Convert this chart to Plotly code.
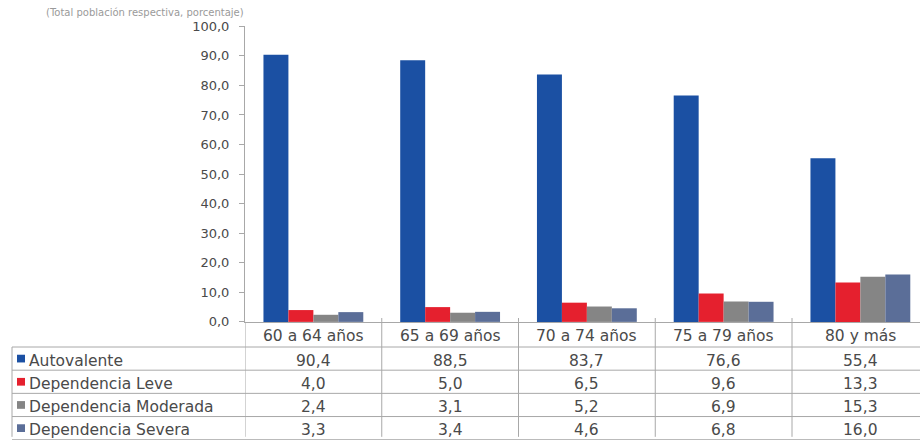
import plotly.graph_objects as go

categories = ["60 a 64 años", "65 a 69 años", "70 a 74 años", "75 a 79 años", "80 y más"]
series_names = ["Autovalente", "Dependencia Leve", "Dependencia Moderada", "Dependencia Severa"]
autovalente = [90.4, 88.5, 83.7, 76.6, 55.4]
dep_leve = [4.0, 5.0, 6.5, 9.6, 13.3]
dep_moderada = [2.4, 3.1, 5.2, 6.9, 15.3]
dep_severa = [3.3, 3.4, 4.6, 6.8, 16.0]
series_values = [autovalente, dep_leve, dep_moderada, dep_severa]
colors = ["#1B50A3", "#E5202E", "#858585", "#5B6E98"]
y_ticks = [0, 10, 20, 30, 40, 50, 60, 70, 80, 90, 100]
subtitle = "(Total población respectiva, porcentaje)"

W, H = 920, 440
def fx(px):
    return px / W
def fy(py):
    return 1 - py / H

FONT = "DejaVu Sans"
TXT = "#4A4A4A"
GRID = "#A8A8A8"
TFS = 15.5

fig = go.Figure()
for name, vals, col in zip(series_names, series_values, colors):
    fig.add_trace(go.Bar(x=list(range(len(categories))), y=vals, name=name,
                         marker=dict(color=col, line=dict(width=0)), showlegend=False))

cat_w = 136.75
x0_px = 245
x_end = -0.5 + (W - x0_px) / cat_w

shapes = []
annotations = []

axis_y = 326
row_lines = [352, 376, 400, 424, 448]
left_px = 12

for i in range(len(categories)):
    shapes.append(dict(type="line", xref="x", yref="paper", x0=i - 0.5, x1=i - 0.5,
                       y0=fy(axis_y), y1=fy(H + 5), line=dict(color=GRID, width=1)))
for i in range(1, len(categories)):
    shapes.append(dict(type="line", xref="x", yref="paper", x0=i - 0.5, x1=i - 0.5,
                       y0=fy(axis_y), y1=fy(axis_y - 4), line=dict(color=GRID, width=1)))
for ry in row_lines:
    shapes.append(dict(type="line", xref="paper", yref="paper", x0=fx(left_px), x1=1,
                       y0=fy(ry), y1=fy(ry), line=dict(color=GRID, width=1)))
shapes.append(dict(type="line", xref="paper", yref="paper", x0=fx(left_px), x1=fx(left_px),
                   y0=fy(row_lines[0]), y1=fy(H + 5), line=dict(color=GRID, width=1)))

for i, c in enumerate(categories):
    annotations.append(dict(x=i, y=fy((axis_y + row_lines[0]) / 2), xref="x", yref="paper",
                            text=c, showarrow=False, font=dict(family=FONT, size=TFS, color=TXT),
                            xanchor="center", yanchor="middle", yshift=-2))
for r, (name, vals, col) in enumerate(zip(series_names, series_values, colors)):
    top = row_lines[r]
    cy = top + 12
    shapes.append(dict(type="rect", xref="paper", yref="paper",
                       x0=fx(left_px + 5), x1=fx(left_px + 13), y0=fy(cy - 4), y1=fy(cy + 4),
                       fillcolor=col, line=dict(width=0)))
    annotations.append(dict(x=fx(left_px + 15), y=fy(cy), xref="paper", yref="paper",
                            text=name, showarrow=False, font=dict(family=FONT, size=TFS, color=TXT),
                            xanchor="left", yanchor="middle", yshift=-2))
    for i, v in enumerate(vals):
        annotations.append(dict(x=i, y=fy(cy), xref="x", yref="paper",
                                text=f"{v:.1f}".replace(".", ","), showarrow=False,
                                font=dict(family=FONT, size=TFS, color=TXT),
                                xanchor="center", yanchor="middle", yshift=-2))

annotations.append(dict(x=fx(246), y=1, xref="paper", yref="paper", text=subtitle,
                        showarrow=False, font=dict(family=FONT, size=10, color="#9A9A9A"),
                        xanchor="right", yanchor="top", yshift=2))

fig.update_layout(
    width=W, height=H,
    margin=dict(l=0, r=0, t=0, b=0),
    paper_bgcolor="white", plot_bgcolor="white",
    barmode="group", bargap=0.27, bargroupgap=0,
    separators=",.",
    xaxis=dict(domain=[fx(x0_px), 1], range=[-0.5, x_end], showticklabels=False,
               showgrid=False, zeroline=False, showline=True, linecolor=GRID, linewidth=1,
               ticks=""),
    yaxis=dict(domain=[fy(axis_y), fy(20)], range=[0, 100], tickvals=y_ticks,
               tickformat=".1f", showgrid=False, zeroline=False, showline=True,
               linecolor=GRID, linewidth=1, ticks="outside", ticklen=5, tickcolor=GRID,
               ticklabelstandoff=7,
               tickfont=dict(family=FONT, size=13, color=TXT)),
    shapes=shapes,
    annotations=annotations,
)

fig.write_html("out.html")
